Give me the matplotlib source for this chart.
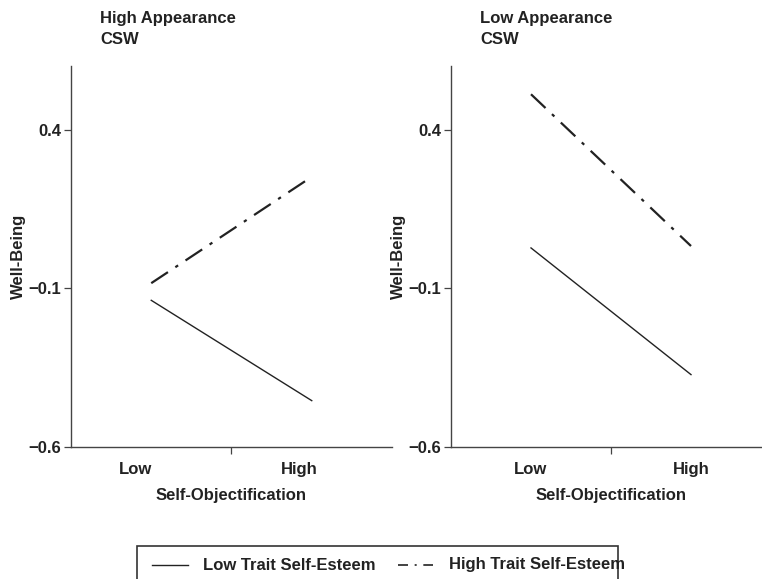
import matplotlib
matplotlib.use("Agg")
import matplotlib.pyplot as plt
from matplotlib.lines import Line2D
from matplotlib.patches import Rectangle

plt.rcParams['font.family'] = ['Liberation Sans', 'DejaVu Sans']
plt.rcParams['font.weight'] = 'bold'

# simple slopes: well-being at low / high self-objectification
x_pos = [0.25, 0.75]
low_se_high_app = [-0.138, -0.454]
high_se_high_app = [-0.084, 0.251]
low_se_low_app = [0.027, -0.372]
high_se_low_app = [0.511, 0.033]

y_ticks = [-0.6, -0.1, 0.4]
y_tick_labels = ['\u22120.6', '\u22120.1', '0.4']
panel_titles = ['High Appearance\nCSW', 'Low Appearance\nCSW']
x_label_pos = [[0.2, 0.71], [0.247, 0.75]]

ink = '#222222'
W, H = 762, 579
fig = plt.figure(figsize=(W / 100, H / 100), dpi=100)

# axes boxes in pixels: left, top, width, height
boxes = [(71, 66, 321, 381), (451, 66, 320, 381)]
series = [(low_se_high_app, high_se_high_app), (low_se_low_app, high_se_low_app)]

for (l, t, w, h), (low_se, high_se), title, lab_x in zip(boxes, series, panel_titles, x_label_pos):
    ax = fig.add_axes([l / W, 1 - (t + h) / H, w / W, h / H])
    ax.plot(x_pos, low_se, color=ink, lw=1.0)
    ax.plot(x_pos, high_se, color=ink, lw=1.6, dashes=(9, 4, 1.5, 4))
    ax.set_xlim(0, 1)
    ax.set_ylim(-0.6, 0.6)
    ax.spines['top'].set_visible(False)
    ax.spines['right'].set_visible(False)
    for s in ('left', 'bottom'):
        ax.spines[s].set_color('#444444')
        ax.spines[s].set_linewidth(1.0)
    ax.set_xticks([0.5])
    ax.set_xticklabels([''])
    ax.set_yticks(y_ticks)
    ax.set_yticklabels(y_tick_labels, fontsize=12, fontweight='bold', color=ink)
    ax.tick_params(axis='both', length=5, width=0.9, color='#444444', pad=2)
    for xv, txt in zip(lab_x, ['Low', 'High']):
        ax.text(xv, -0.6 - 0.072, txt, ha='center', va='center', fontsize=12,
                fontweight='bold', color=ink, clip_on=False)
    ax.text(0.5, -0.6 - 0.152, 'Self-Objectification', ha='center', va='center',
            fontsize=12, fontweight='bold', color=ink, clip_on=False)
    ax.set_ylabel('Well-Being', fontsize=12, fontweight='bold', color=ink, labelpad=2)
    fig.text((l + 29) / W, 1 - 11 / H, title, ha='left', va='top', fontsize=12,
             fontweight='bold', color=ink, linespacing=1.5)

# legend box along the bottom edge
fig.patches.append(Rectangle((137 / W, -0.05), (618 - 137) / W, (H - 546) / H + 0.05,
                             transform=fig.transFigure, fill=False,
                             edgecolor='#333333', lw=1.2))
y_leg = 1 - 565 / H
fig.lines.append(Line2D([152 / W, 188 / W], [y_leg, y_leg], transform=fig.transFigure,
                        color=ink, lw=1.0))
fig.text(203 / W, y_leg, 'Low Trait Self-Esteem', ha='left', va='center', fontsize=12,
         fontweight='bold', color=ink)
fig.lines.append(Line2D([398 / W, 433 / W], [y_leg, y_leg], transform=fig.transFigure,
                        color=ink, lw=1.2, dashes=(6, 4, 1.2, 4)))
fig.text(449 / W, y_leg, 'High Trait Self-Esteem', ha='left', va='center', fontsize=12,
         fontweight='bold', color=ink)

fig.savefig('out.png', dpi=100)
